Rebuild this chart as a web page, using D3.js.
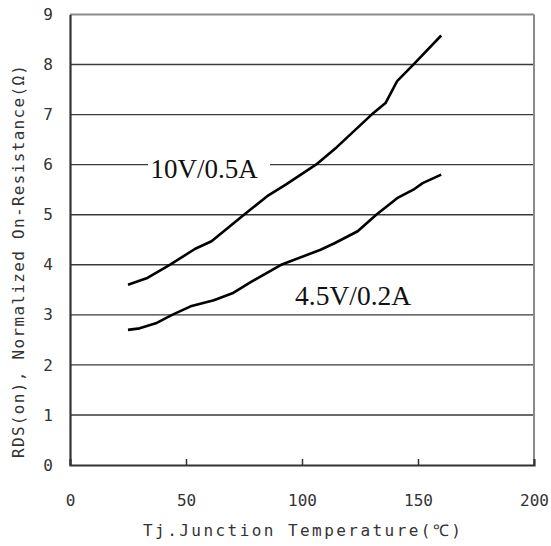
<!DOCTYPE html>
<html><head><meta charset="utf-8">
<script src="https://cdn.jsdelivr.net/npm/d3@7"></script>
<style>body{margin:0;background:#fff}</style>
</head><body>
<svg id="c" width="551" height="546"></svg>
<script>
const xTicks = [0, 50, 100, 150, 200];
const yTicks = [0, 1, 2, 3, 4, 5, 6, 7, 8, 9];
const tempA = [25, 33, 43, 54, 61, 75, 85, 93, 106, 115, 130, 136, 141, 148, 160];
const resA  = [3.6, 3.73, 4.0, 4.32, 4.47, 5.0, 5.37, 5.6, 6.0, 6.35, 7.0, 7.23, 7.67, 8.0, 8.58];
const tempB = [25, 30, 37, 44, 52, 62, 70, 77, 91, 108, 114, 124, 132, 141, 148, 152, 160];
const resB  = [2.7, 2.73, 2.83, 3.0, 3.17, 3.29, 3.43, 3.63, 4.0, 4.3, 4.43, 4.67, 5.0, 5.33, 5.5, 5.63, 5.8];
const seriesNames = ["10V/0.5A", "4.5V/0.2A"];
const xTitle = "Tj.Junction Temperature(℃)";
const yTitle = "RDS(on), Normalized On-Resistance(Ω)";

const svg = d3.select("#c");
const x = d3.scaleLinear().domain([0, 200]).range([70, 534]);
const y = d3.scaleLinear().domain([0, 9]).range([465, 14.5]);
const mono = "'DejaVu Sans Mono', 'Liberation Mono', monospace";

// gridlines
svg.append("g").selectAll("line").data(yTicks.filter(d => d > 0 && d < 9)).join("line")
  .attr("x1", x(0)).attr("x2", x(200))
  .attr("y1", d => y(d)).attr("y2", d => y(d))
  .attr("stroke", "#3a3a3a").attr("stroke-width", 1.4);

// frame top/right
svg.append("line").attr("x1", x(0)).attr("x2", x(200)).attr("y1", y(9)).attr("y2", y(9))
  .attr("stroke", "#8a8a8a").attr("stroke-width", 2);
svg.append("line").attr("x1", x(200)).attr("x2", x(200)).attr("y1", y(9)).attr("y2", y(0))
  .attr("stroke", "#8a8a8a").attr("stroke-width", 2);

// axes
const xAxis = d3.axisBottom(x).tickValues(xTicks).tickSize(-6).tickPadding(30).tickFormat(d3.format("d"));
const gx = svg.append("g").attr("transform", `translate(0,${y(0)})`).call(xAxis);
gx.select(".domain").attr("stroke", "#333").attr("stroke-width", 2.2);
gx.selectAll(".tick line").attr("stroke", "#333").attr("stroke-width", 1.5);
gx.selectAll(".tick").filter(d => d === 0 || d === 200).select("line").remove();
gx.selectAll("text").attr("font-family", mono).attr("font-size", 16).attr("fill", "#333");

const yAxis = d3.axisLeft(y).tickValues(yTicks).tickSize(0).tickPadding(17).tickFormat(d3.format("d"));
const gy = svg.append("g").attr("transform", `translate(${x(0)},0)`).call(yAxis);
gy.select(".domain").attr("stroke", "#333").attr("stroke-width", 2.2);
gy.selectAll("text").attr("font-family", mono).attr("font-size", 16).attr("fill", "#333");

// curves
const line = d3.line().x(d => x(d[0])).y(d => y(d[1]));
svg.append("path").datum(tempA.map((t, i) => [t, resA[i]])).attr("d", line)
  .attr("fill", "none").attr("stroke", "#000").attr("stroke-width", 2.6).attr("stroke-linejoin", "round");
svg.append("path").datum(tempB.map((t, i) => [t, resB[i]])).attr("d", line)
  .attr("fill", "none").attr("stroke", "#000").attr("stroke-width", 2.6).attr("stroke-linejoin", "round");

// series labels
svg.append("rect").attr("x", 148).attr("y", y(6) - 3).attr("width", 122).attr("height", 6).attr("fill", "#fff");
svg.append("text").attr("x", 150.5).attr("y", 178).text(seriesNames[0])
  .attr("font-family", "'Liberation Serif', 'Times New Roman', serif").attr("font-size", 27).attr("fill", "#111");
svg.append("text").attr("x", 295).attr("y", 305).text(seriesNames[1])
  .attr("font-family", "'Liberation Serif', 'Times New Roman', serif").attr("font-size", 27.5).attr("fill", "#111");

// axis titles
svg.append("text").attr("x", 143).attr("y", 536).text(xTitle)
  .attr("font-family", mono).attr("font-size", 16).attr("fill", "#333")
  .attr("textLength", 318).attr("lengthAdjust", "spacing");
svg.append("text").attr("transform", "translate(24,458) rotate(-90)").text(yTitle)
  .attr("font-family", mono).attr("font-size", 16).attr("fill", "#333")
  .attr("textLength", 393).attr("lengthAdjust", "spacing");
</script>
</body></html>
